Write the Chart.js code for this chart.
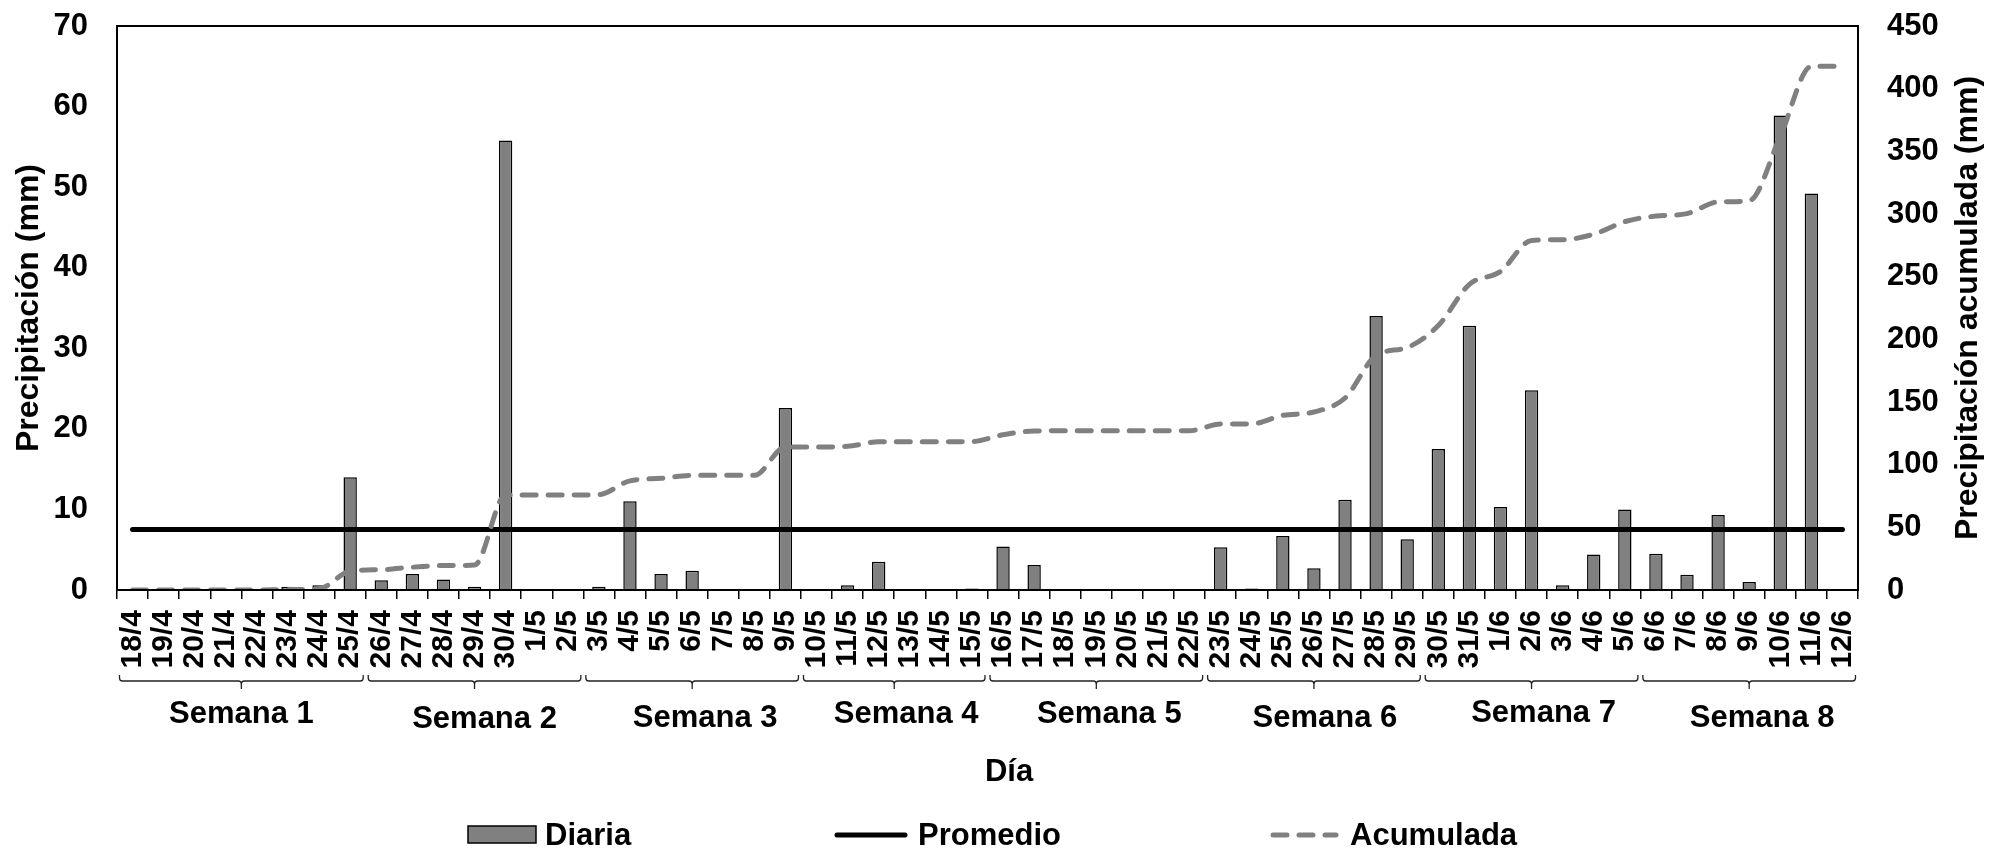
<!DOCTYPE html>
<html>
<head>
<meta charset="utf-8">
<title>Precipitación diaria y acumulada</title>
<script src="https://cdn.jsdelivr.net/npm/chart.js@4.4.1/dist/chart.umd.min.js"></script>
<style>
  html, body { margin: 0; padding: 0; background: #fff; }
  canvas { display: block; }
</style>
</head>
<body>
<canvas id="lluvia" width="1990" height="850"></canvas>
<script>
// datos
const dias = [
  "18/4", "19/4", "20/4", "21/4", "22/4", "23/4", "24/4", "25/4",
  "26/4", "27/4", "28/4", "29/4", "30/4", "1/5", "2/5",
  "3/5", "4/5", "5/5", "6/5", "7/5", "8/5", "9/5",
  "10/5", "11/5", "12/5", "13/5", "14/5", "15/5",
  "16/5", "17/5", "18/5", "19/5", "20/5", "21/5", "22/5",
  "23/5", "24/5", "25/5", "26/5", "27/5", "28/5", "29/5",
  "30/5", "31/5", "1/6", "2/6", "3/6", "4/6", "5/6",
  "6/6", "7/6", "8/6", "9/6", "10/6", "11/6", "12/6"
];

const diaria = [
  0, 0, 0, 0, 0, 0.4, 0.6, 14.0,
  1.2, 2.0, 1.3, 0.4, 55.8, 0, 0,
  0.4, 11.0, 2.0, 2.4, 0, 0, 22.6,
  0, 0.6, 3.5, 0, 0, 0.2,
  5.4, 3.1, 0.1, 0, 0, 0, 0.1,
  5.3, 0.2, 6.7, 2.7, 11.2, 34.0, 6.3,
  17.5, 32.8, 10.3, 24.8, 0.6, 4.4, 10.0,
  4.5, 1.9, 9.3, 1.0, 58.9, 49.2, 0
];

const acumulada = [
  0, 0, 0, 0, 0, 0.4, 1.0, 15.0,
  16.2, 18.2, 19.5, 19.9, 75.7, 75.7, 75.7,
  76.1, 87.1, 89.1, 91.5, 91.5, 91.5, 114.1,
  114.1, 114.7, 118.2, 118.2, 118.2, 118.4,
  123.8, 126.9, 127.0, 127.0, 127.0, 127.0, 127.1,
  132.4, 132.6, 139.3, 142.0, 153.2, 187.2, 193.5,
  211.0, 243.8, 254.1, 278.9, 279.5, 283.9, 293.9,
  298.4, 300.3, 309.6, 310.6, 362.0, 417.8, 417.8
];

const promedio = 7.5;

const semanas = ["Semana 1", "Semana 2", "Semana 3", "Semana 4", "Semana 5", "Semana 6", "Semana 7", "Semana 8"];
const diasPorSemana = [8, 7, 7, 6, 7, 7, 7, 7];

const FUENTE = "'Liberation Sans', Arial, sans-serif";
const GRIS = "#808080";

// corrimiento de cada rotulo de semana respecto a su llave (px)
const semanaDx = [0, 10, 13, 12, 13, 11, 12, 13];
const semanaBase = [723, 728, 727, 723, 723, 727, 722, 727];

// marco, llaves de semanas, titulos y leyenda
const extras = {
  id: "extras",
  afterDatasetsDraw(chart) {
    const { ctx, chartArea: a } = chart;
    ctx.save();
    ctx.strokeStyle = "#000";
    ctx.lineWidth = 2;
    ctx.strokeRect(a.left, a.top, a.right - a.left, a.bottom - a.top);
    ctx.restore();
  },
  afterDraw(chart) {
    const { ctx, chartArea: a } = chart;
    const xs = chart.scales.x;
    const banda = xs.getPixelForValue(1) - xs.getPixelForValue(0);

    ctx.save();
    ctx.fillStyle = "#000";
    ctx.font = "bold 31px " + FUENTE;

    // llaves bajo los dias
    let ini = 0;
    diasPorSemana.forEach((n, k) => {
      const x0 = xs.getPixelForValue(ini) - banda / 2 + 2.5;
      const x1 = xs.getPixelForValue(ini + n - 1) + banda / 2 - 2.5;
      const xm = (x0 + x1) / 2;
      ctx.strokeStyle = "#222";
      ctx.lineWidth = 1.3;
      ctx.beginPath();
      ctx.moveTo(x0, 675);
      ctx.arcTo(x0, 681, x0 + 3, 681, 3);
      ctx.lineTo(xm - 3, 681);
      ctx.arcTo(xm, 681, xm, 689, 3);
      ctx.lineTo(xm, 689);
      ctx.moveTo(xm, 684);
      ctx.arcTo(xm, 681, xm + 3, 681, 3);
      ctx.lineTo(x1 - 3, 681);
      ctx.arcTo(x1, 681, x1, 675, 3);
      ctx.lineTo(x1, 675);
      ctx.stroke();

      ctx.textAlign = "center";
      ctx.textBaseline = "alphabetic";
      ctx.fillText(semanas[k], xm + semanaDx[k], semanaBase[k]);
      ini += n;
    });

    // titulo eje x
    ctx.textAlign = "center";
    ctx.fillText("Día", 1009, 781);

    // titulos ejes y (ambos rotados hacia arriba)
    const midY = (a.top + a.bottom) / 2;
    ctx.font = "bold 32px " + FUENTE;
    ctx.textBaseline = "middle";
    ctx.save();
    ctx.translate(29, midY);
    ctx.rotate(-Math.PI / 2);
    ctx.fillText("Precipitación (mm)", 0, 0);
    ctx.restore();
    ctx.save();
    ctx.translate(1968, midY);
    ctx.rotate(-Math.PI / 2);
    ctx.fillText("Precipitación acumulada (mm)", 0, 0);
    ctx.restore();

    // leyenda
    const yLey = 835;
    ctx.font = "bold 31px " + FUENTE;
    ctx.textAlign = "left";
    ctx.textBaseline = "alphabetic";
    ctx.fillStyle = GRIS;
    ctx.fillRect(468, 826, 68, 17);
    ctx.strokeStyle = "#000";
    ctx.lineWidth = 1.5;
    ctx.strokeRect(468, 826, 68, 17);
    ctx.fillStyle = "#000";
    ctx.fillText("Diaria", 545, 845);

    ctx.lineCap = "round";
    ctx.lineWidth = 5;
    ctx.beginPath();
    ctx.moveTo(837, yLey);
    ctx.lineTo(905, yLey);
    ctx.stroke();
    ctx.fillText("Promedio", 918, 845);

    ctx.strokeStyle = GRIS;
    ctx.setLineDash([14, 12]);
    ctx.beginPath();
    ctx.moveTo(1273, yLey);
    ctx.lineTo(1336, yLey);
    ctx.stroke();
    ctx.setLineDash([]);
    ctx.fillText("Acumulada", 1350, 845);

    ctx.restore();
  }
};

const fuenteTicks = { family: FUENTE, size: 31, weight: "bold" };

// ancho fijo de los ejes y sin margen extra por los rotulos
function fijarEjeY(ancho) {
  return (s) => {
    s.width = ancho;
    s.paddingTop = 0;
    s.paddingBottom = 0;
  };
}

new Chart(document.getElementById("lluvia").getContext("2d"), {
  type: "bar",
  data: {
    labels: dias,
    datasets: [
      {
        type: "bar",
        label: "Diaria",
        data: diaria,
        yAxisID: "y",
        backgroundColor: GRIS,
        borderColor: "#000",
        borderWidth: 1.5,
        barPercentage: 0.43,
        categoryPercentage: 1,
        order: 3
      },
      {
        type: "line",
        label: "Promedio",
        data: [{ x: dias[0], y: promedio }, { x: dias[dias.length - 1], y: promedio }],
        yAxisID: "y",
        borderColor: "#000",
        borderWidth: 5,
        borderCapStyle: "round",
        pointRadius: 0,
        order: 2
      },
      {
        type: "line",
        label: "Acumulada",
        data: acumulada,
        yAxisID: "y1",
        borderColor: GRIS,
        borderWidth: 5,
        borderDash: [14, 12],
        borderCapStyle: "round",
        cubicInterpolationMode: "monotone",
        pointRadius: 0,
        order: 1
      }
    ]
  },
  options: {
    responsive: false,
    animation: false,
    layout: { padding: { top: 26, left: 0, right: 0, bottom: 0 } },
    plugins: {
      legend: { display: false },
      tooltip: { enabled: false }
    },
    scales: {
      x: {
        offset: true,
        grid: { drawOnChartArea: false, drawTicks: true, tickLength: 9, color: "#000", lineWidth: 1.5, offset: true },
        border: { display: false },
        ticks: {
          autoSkip: false,
          minRotation: 90,
          maxRotation: 90,
          padding: 11,
          color: "#000",
          font: { family: FUENTE, size: 30, weight: "bold" }
        },
        afterFit: (s) => { s.height = 260; }
      },
      y: {
        position: "left",
        min: 0,
        max: 70,
        ticks: { stepSize: 10, padding: 29, color: "#000", font: fuenteTicks },
        grid: { display: false, drawTicks: false },
        border: { display: false },
        afterFit: fijarEjeY(117)
      },
      y1: {
        position: "right",
        min: 0,
        max: 450,
        ticks: { stepSize: 50, padding: 29, color: "#000", font: fuenteTicks },
        grid: { display: false, drawTicks: false },
        border: { display: false },
        afterFit: fijarEjeY(132)
      }
    }
  },
  plugins: [extras]
});
</script>
</body>
</html>
